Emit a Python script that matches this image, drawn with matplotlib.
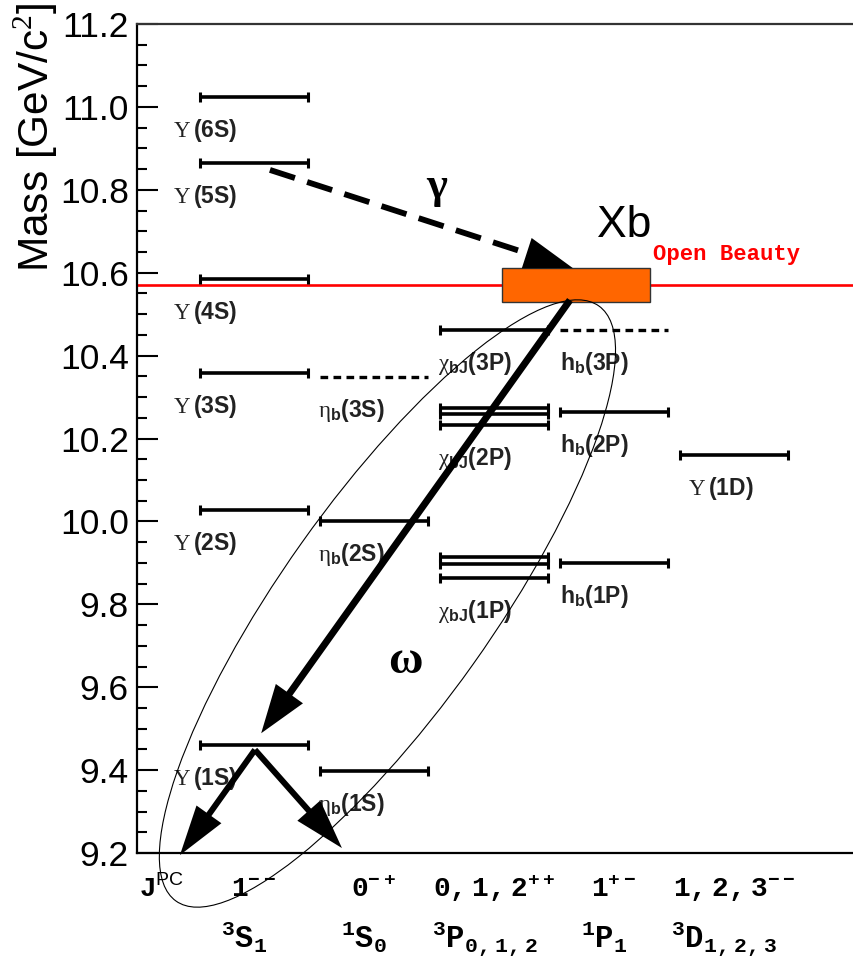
import matplotlib
matplotlib.use('Agg')
import matplotlib.pyplot as plt
import matplotlib.patches as patches
from matplotlib.transforms import IdentityTransform
import numpy as np

plt.rcParams['font.family'] = ['Liberation Sans', 'DejaVu Sans']
plt.rcParams['mathtext.fontset'] = 'custom'
plt.rcParams['mathtext.rm'] = 'Liberation Serif'
plt.rcParams['mathtext.bf'] = 'Liberation Sans:bold'
plt.rcParams['mathtext.sf'] = 'Liberation Sans'
plt.rcParams['mathtext.tt'] = 'Liberation Mono:bold'

# quantum numbers of each column
column_jpc = [r'$\mathtt{1}^{\mathtt{--}}$', r'$\mathtt{0}^{\mathtt{-+}}$',
              r'$\mathtt{0,1,2}^{\mathtt{++}}$', r'$\mathtt{1}^{\mathtt{+-}}$',
              r'$\mathtt{1,2,3}^{\mathtt{--}}$']
column_terms = [r'${}^{\mathtt{3}}\mathtt{S}_{\mathtt{1}}$', r'${}^{\mathtt{1}}\mathtt{S}_{\mathtt{0}}$',
                r'${}^{\mathtt{3}}\mathtt{P}_{\mathtt{0,1,2}}$', r'${}^{\mathtt{1}}\mathtt{P}_{\mathtt{1}}$',
                r'${}^{\mathtt{3}}\mathtt{D}_{\mathtt{1,2,3}}$']

# bottomonium states
state_labels = [
    r'$\mathrm{Υ}\,\mathbf{(6S)}$', r'$\mathrm{Υ}\,\mathbf{(5S)}$', r'$\mathrm{Υ}\,\mathbf{(4S)}$',
    r'$\mathrm{Υ}\,\mathbf{(3S)}$', r'$\mathrm{Υ}\,\mathbf{(2S)}$', r'$\mathrm{Υ}\,\mathbf{(1S)}$',
    r'$\mathrm{η}_{\mathbf{b}}\mathbf{(3S)}$', r'$\mathrm{η}_{\mathbf{b}}\mathbf{(2S)}$',
    r'$\mathrm{η}_{\mathbf{b}}\mathbf{(1S)}$',
    r'$\mathrm{χ}_{\mathbf{bJ}}\mathbf{(3P)}$', r'$\mathrm{χ}_{\mathbf{bJ}}\mathbf{(2P)}$',
    r'$\mathrm{χ}_{\mathbf{bJ}}\mathbf{(1P)}$',
    r'$\mathbf{h}_{\mathbf{b}}\mathbf{(3P)}$', r'$\mathbf{h}_{\mathbf{b}}\mathbf{(2P)}$',
    r'$\mathbf{h}_{\mathbf{b}}\mathbf{(1P)}$',
    r'$\mathrm{Υ}\,\mathbf{(1D)}$',
]
state_columns = [0, 0, 0, 0, 0, 0, 1, 1, 1, 2, 2, 2, 3, 3, 3, 4]
state_masses = [
    [11.025], [10.865], [10.585], [10.358], [10.027], [9.461],
    [10.348], [10.001], [9.398],
    [10.462], [10.274, 10.259, 10.232], [9.914, 9.897, 9.863],
    [10.462], [10.264], [9.900],
    [10.160],
]
state_observed = [True, True, True, True, True, True,
                  False, True, True,
                  True, True, True,
                  False, True, True,
                  True]

open_beauty = 10.57
xb_mass = (10.529, 10.611)

fig = plt.figure(figsize=(8.54, 9.73), dpi=100)
ax = fig.add_axes([0.1604, 0.1233, 0.8396, 0.852])
ax.set_xlim(-0.525, 5.45)
ax.set_ylim(9.2, 11.2)

ax.spines['right'].set_visible(False)
for s in ['left', 'top', 'bottom']:
    ax.spines[s].set_linewidth(1.6)
ax.spines['top'].set_color('#333333')
ax.set_xticks([])
ax.set_yticks(np.arange(9.2, 11.21, 0.2))
ax.set_yticks(np.arange(9.2, 11.2, 0.05), minor=True)
ax.yaxis.set_major_formatter(matplotlib.ticker.FormatStrFormatter('%.1f'))
ax.tick_params(axis='y', which='major', direction='in', length=15, width=1.5, labelsize=25.5, pad=6)
ax.tick_params(axis='y', which='minor', direction='in', length=7.5, width=1.5)
ax.set_ylabel(r'Mass [GeV/c$^2$]', fontsize=30.5, va='center')
ax.yaxis.set_label_coords(-0.142, 0.864)

# open beauty threshold and the Xb box
ax.axhline(open_beauty, color='#ff0000', lw=1.9, zorder=2)
ax.text(3.775, 10.631, 'Open Beauty', color='#ff0000', fontsize=16,
        family='Liberation Mono', weight='bold', va='baseline')
ax.add_patch(patches.Rectangle((2.517, xb_mass[0]), 1.233, xb_mass[1] - xb_mass[0],
                               facecolor='#ff6600', edgecolor='#333333', lw=1, zorder=3))
ax.text(3.308, 10.686, 'Xb', fontsize=32, va='baseline')

# levels
label_dx = [-0.225, -0.02, -0.02, 0.0, 0.07]
for label, col, masses, observed in zip(state_labels, state_columns, state_masses, state_observed):
    x0, x1 = col, col + 0.9
    for m in masses:
        if observed:
            ax.plot([x0, x1], [m, m], color='k', lw=2.6, solid_capstyle='butt', zorder=4)
            ax.plot([x0, x1], [m, m], ls='none', marker='|', ms=7, mew=2.2, color='k', zorder=4)
        else:
            ax.plot([x0, x1], [m, m], color='k', lw=2.4, ls=(0, (2.3, 1.6)), zorder=4)
    ax.text(col + label_dx[col], min(masses) - 0.097, label, fontsize=16.5,
            color='#222222', va='baseline', ha='left', zorder=5)

# column quantum numbers under the axis
xa = ax.get_xaxis_transform()
ax.text(-0.51, -0.053, r'$\mathtt{J}^{\mathsf{PC}}$', transform=xa, fontsize=20,
        ha='left', va='baseline')
for i, (jpc, term) in enumerate(zip(column_jpc, column_terms)):
    ax.text(i + 0.45, -0.053, jpc, transform=xa, fontsize=20, ha='center', va='baseline')
    ax.text(i + 0.37, -0.115, term, transform=xa, fontsize=22, ha='center', va='baseline')


def arrow(start, tip, lw, head_len, head_w, ls='-'):
    p0 = ax.transData.transform(start)
    p1 = ax.transData.transform(tip)
    d = (p1 - p0) / np.hypot(*(p1 - p0))
    base = p1 - d * head_len * 0.9 * fig.dpi / 72
    bx, by = ax.transData.inverted().transform(base)
    ax.plot([start[0], bx], [start[1], by], color='k', lw=lw, ls=ls,
            solid_capstyle='butt', dash_capstyle='butt', clip_on=False, zorder=6)
    ax.annotate('', xy=tip, xytext=start, annotation_clip=False, zorder=6,
                arrowprops=dict(arrowstyle=f'-|>,head_length={head_len},head_width={head_w}',
                                lw=0, color='k', shrinkA=0, shrinkB=0, mutation_scale=1))


arrow((0.583, 10.848), (3.108, 10.611), 4.2, 35, 11.5, ls=(0, (4.5, 2.2)))
arrow((3.083, 10.534), (0.51, 9.489), 5.0, 35, 12)
arrow((0.458, 9.449), (-0.167, 9.195), 4.3, 36, 11)
arrow((0.458, 9.449), (1.183, 9.212), 4.3, 36, 11)

ax.text(1.975, 10.807, 'γ', fontsize=32, family='Liberation Serif', weight='bold',
        ha='center', va='center')
ax.text(1.708, 9.661, 'ω', fontsize=34, family='Liberation Serif', weight='bold',
        ha='center', va='center')

# ellipse around the transition, drawn in pixels so it keeps its shape
c = ax.transData.transform((1.562, 9.802))
ax.add_artist(patches.Ellipse(c, width=730, height=210, angle=54.6, fill=False, lw=0.8,
                              ec='k', transform=IdentityTransform(), clip_on=False, zorder=7))

fig.savefig('out.png', dpi=100)
